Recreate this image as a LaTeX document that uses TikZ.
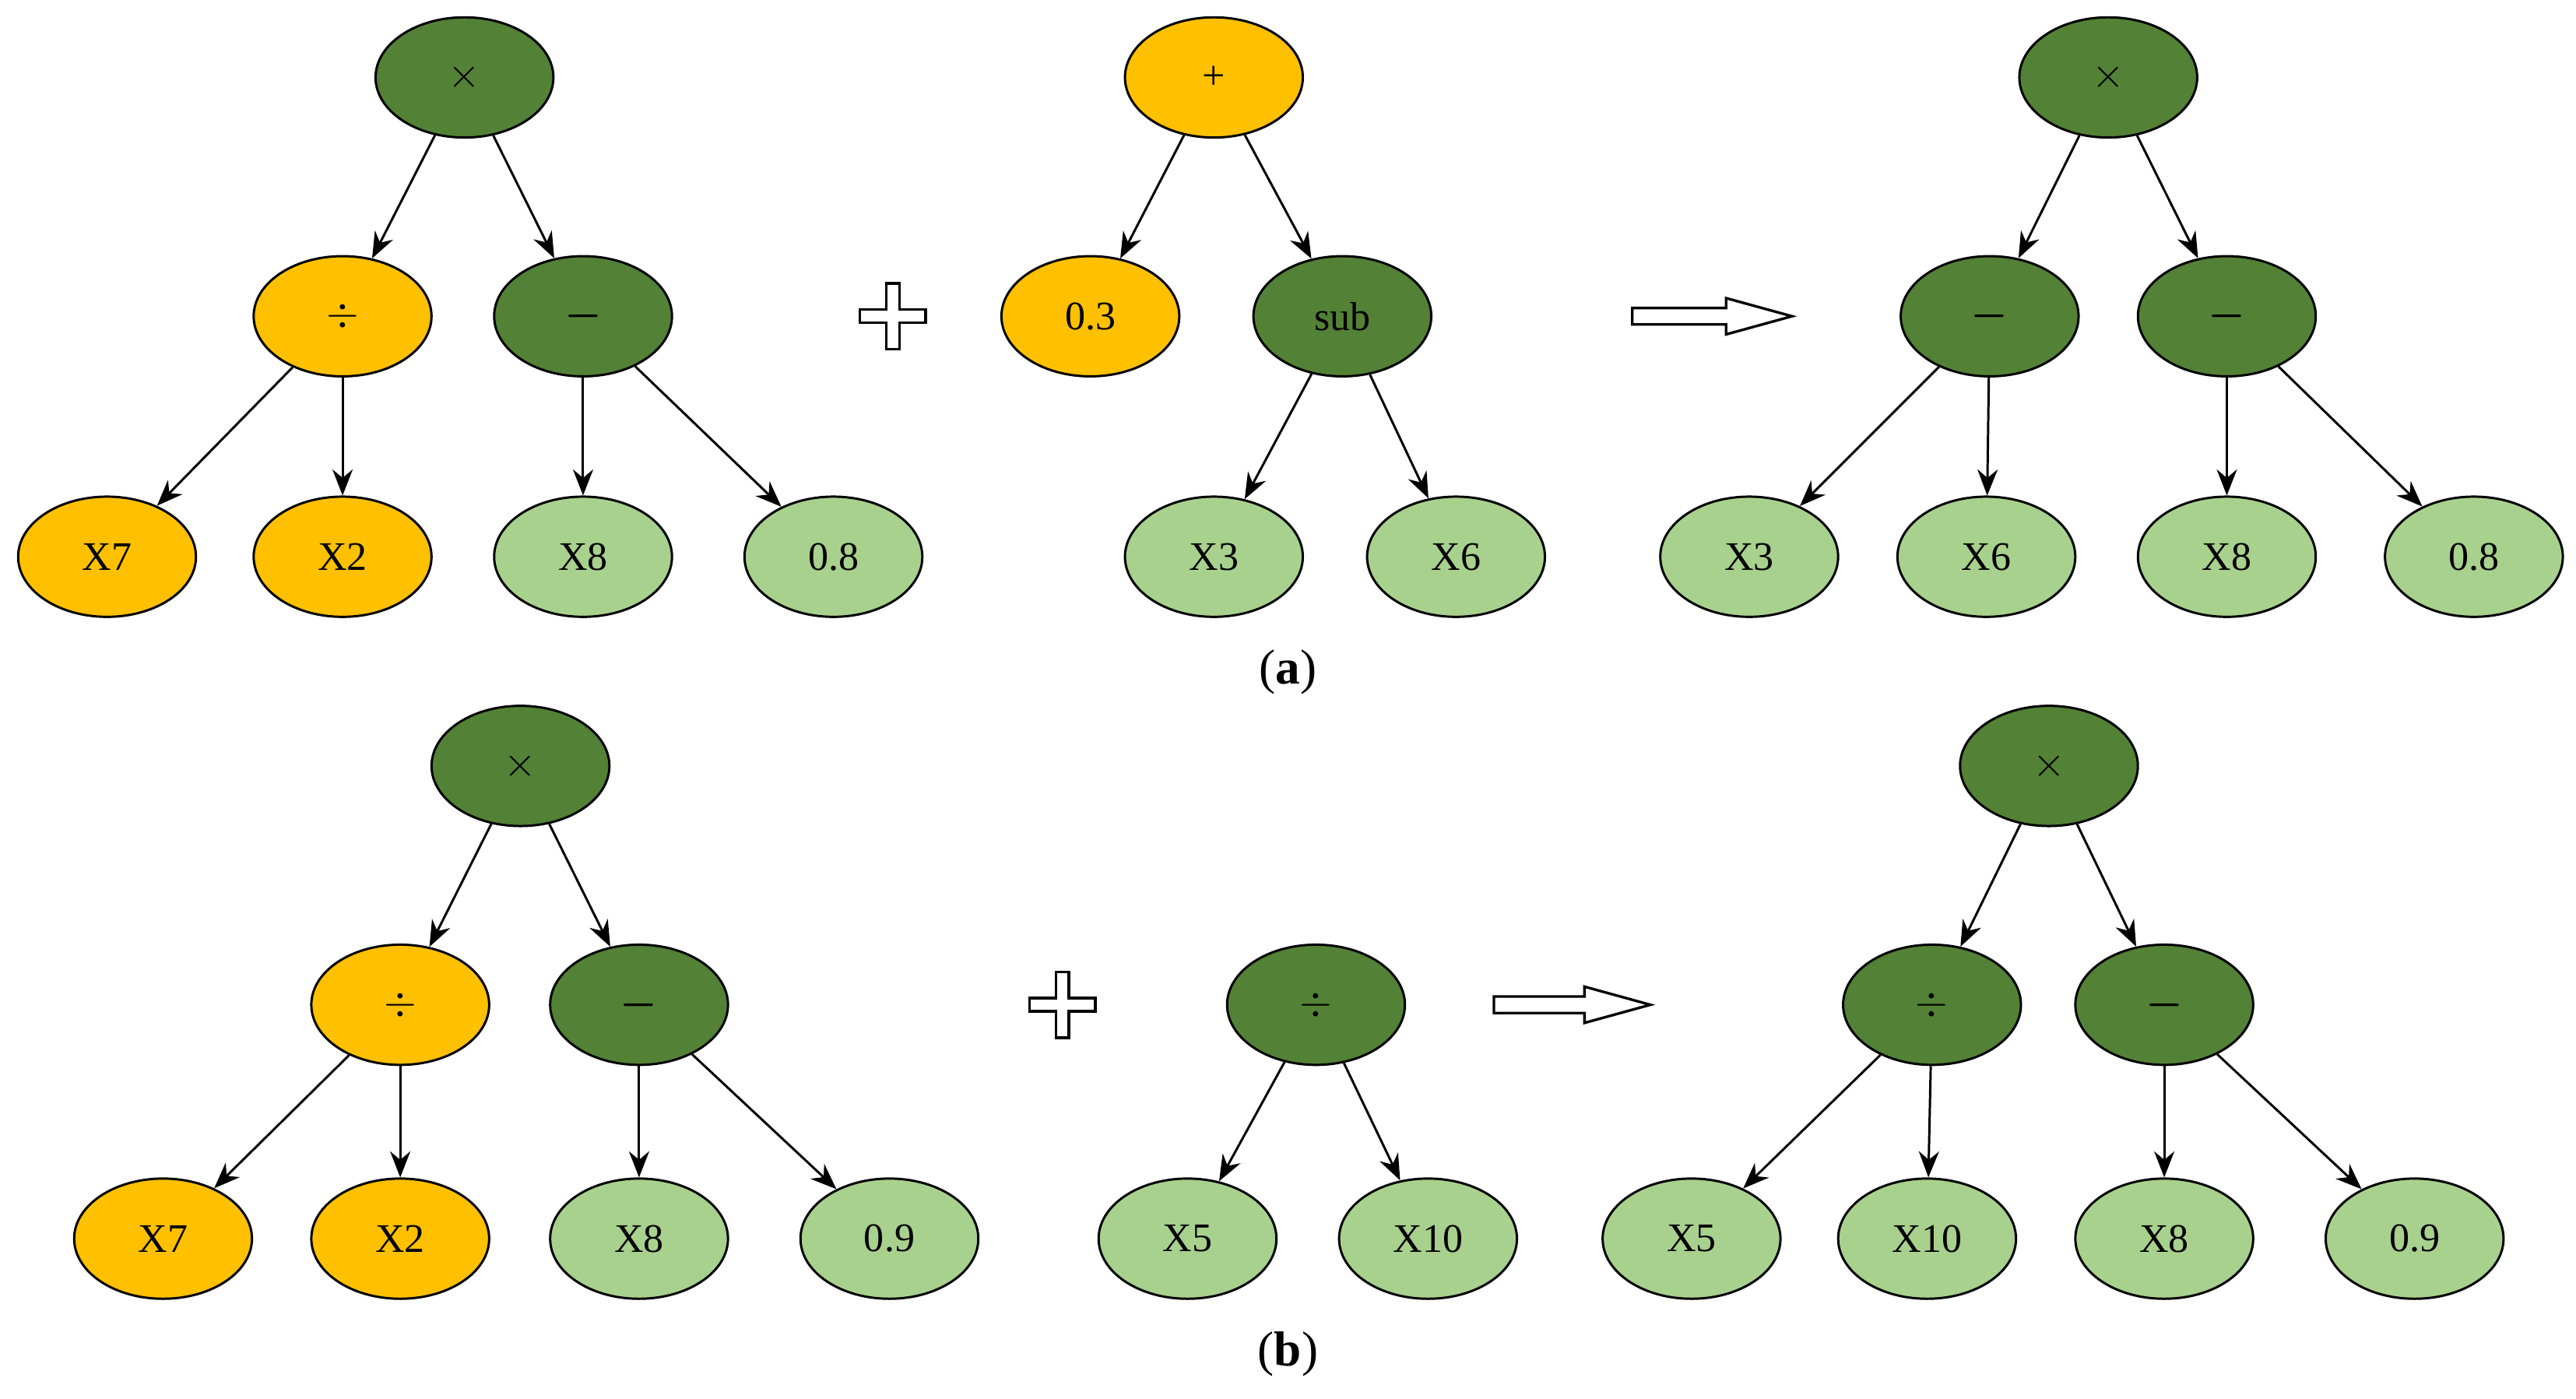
\documentclass[tikz,border=0pt]{standalone}
\usepackage{amsmath}
\usepackage{fontspec}
\setmainfont{Liberation Serif}
\usetikzlibrary{shapes.geometric,arrows.meta}
\definecolor{dg}{HTML}{538135}
\definecolor{og}{HTML}{FFC000}
\definecolor{lg}{HTML}{A9D18E}
\begin{document}
\begin{tikzpicture}[x=0.02cm,y=-0.02cm,
  nd/.style={ellipse,draw=black,line width=0.8pt,minimum width=2.16cm,minimum height=1.46cm,inner sep=0pt,font=\fontsize{14}{16}\selectfont},
  d/.style={nd,fill=dg},o/.style={nd,fill=og},l/.style={nd,fill=lg},
  ed/.style={-{Stealth[length=9pt,width=7pt]},line width=0.8pt},
  sym/.style={draw=black,line width=0.9pt,fill=white}]
\useasboundingbox (0,0) rectangle (1564,849);
% ---- (a) left tree
\node[d] (a1) at (282,47) {$\times$};
\node[o] (a2) at (208,192) {$\div$};
\node[d] (a3) at (354,192) {$\boldsymbol{-}$};
\node[o] (a4) at (65,338) {X7};
\node[o] (a5) at (208,338) {X2};
\node[l] (a6) at (354,338) {X8};
\node[l] (a7) at (506,338) {0.8};
\draw[ed] (a1)--(a2); \draw[ed] (a1)--(a3);
\draw[ed] (a2)--(a4); \draw[ed] (a2)--(a5);
\draw[ed] (a3)--(a6); \draw[ed] (a3)--(a7);
% (a) middle tree
\node[o] (b1) at (737,47) {+};
\node[o] (b2) at (662,192) {0.3};
\node[d] (b3) at (815,192) {sub};
\node[l] (b4) at (737,338) {X3};
\node[l] (b5) at (884,338) {X6};
\draw[ed] (b1)--(b2); \draw[ed] (b1)--(b3);
\draw[ed] (b3)--(b4); \draw[ed] (b3)--(b5);
% (a) right tree
\node[d] (c1) at (1280,47) {$\times$};
\node[d] (c2) at (1208,192) {$\boldsymbol{-}$};
\node[d] (c3) at (1352,192) {$\boldsymbol{-}$};
\node[l] (c4) at (1062,338) {X3};
\node[l] (c5) at (1206,338) {X6};
\node[l] (c6) at (1352,338) {X8};
\node[l] (c7) at (1502,338) {0.8};
\draw[ed] (c1)--(c2); \draw[ed] (c1)--(c3);
\draw[ed] (c2)--(c4); \draw[ed] (c2)--(c5);
\draw[ed] (c3)--(c6); \draw[ed] (c3)--(c7);
% plus and arrow (a)
\draw[sym] (538,172)--(546,172)--(546,188)--(562,188)--(562,196)--(546,196)--(546,212)--(538,212)--(538,196)--(522,196)--(522,188)--(538,188)--cycle;
\draw[sym] (991,187)--(1048,187)--(1048,181)--(1088,192)--(1048,203)--(1048,197)--(991,197)--cycle;
\node[font=\fontsize{17}{19}\selectfont] (la) at (782,408) {(\textbf{a})};
% ---- (b) left tree
\node[d] (d1) at (316,465) {$\times$};
\node[o] (d2) at (243,610) {$\div$};
\node[d] (d3) at (388,610) {$\boldsymbol{-}$};
\node[o] (d4) at (99,752) {X7};
\node[o] (d5) at (243,752) {X2};
\node[l] (d6) at (388,752) {X8};
\node[l] (d7) at (540,752) {0.9};
\draw[ed] (d1)--(d2); \draw[ed] (d1)--(d3);
\draw[ed] (d2)--(d4); \draw[ed] (d2)--(d5);
\draw[ed] (d3)--(d6); \draw[ed] (d3)--(d7);
% (b) middle tree
\node[d] (e1) at (799,610) {$\div$};
\node[l] (e2) at (721,752) {X5};
\node[l] (e3) at (867,752) {X10};
\draw[ed] (e1)--(e2); \draw[ed] (e1)--(e3);
% (b) right tree
\node[d] (f1) at (1244,465) {$\times$};
\node[d] (f2) at (1173,610) {$\div$};
\node[d] (f3) at (1314,610) {$\boldsymbol{-}$};
\node[l] (f4) at (1027,752) {X5};
\node[l] (f5) at (1170,752) {X10};
\node[l] (f6) at (1314,752) {X8};
\node[l] (f7) at (1466,752) {0.9};
\draw[ed] (f1)--(f2); \draw[ed] (f1)--(f3);
\draw[ed] (f2)--(f4); \draw[ed] (f2)--(f5);
\draw[ed] (f3)--(f6); \draw[ed] (f3)--(f7);
% plus and arrow (b)
\draw[sym] (641,590)--(649,590)--(649,606)--(665,606)--(665,614)--(649,614)--(649,630)--(641,630)--(641,614)--(625,614)--(625,606)--(641,606)--cycle;
\draw[sym] (907,605)--(962,605)--(962,599)--(1002,610)--(962,621)--(962,615)--(907,615)--cycle;
\node[font=\fontsize{17}{19}\selectfont] (lb) at (782,822) {(\textbf{b})};
\end{tikzpicture}
\end{document}
